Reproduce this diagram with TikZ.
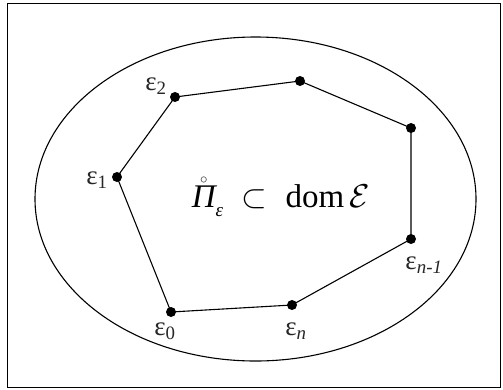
\documentclass[tikz,border=0pt]{standalone}
\usepackage{fix-cm}
\usepackage{fontspec}
\setmainfont{Liberation Serif}
\usetikzlibrary{shapes.geometric}
\begin{document}
\begin{tikzpicture}[x=1pt,y=-1pt,
  vtx/.style={circle,fill=black,inner sep=0pt,minimum size=10pt},
  lbl/.style={font=\fontsize{27}{30}\selectfont,inner sep=0pt,text=black!85},
  edge/.style={line width=1.1pt},
  bound/.style={draw,ellipse,line width=1.1pt,inner sep=0pt}]
\useasboundingbox (0,0) rectangle (503,389);
\draw[line width=0.9pt] (7,3) rectangle (500,387);
\node[bound,minimum width=441pt,minimum height=324pt] (dom) at (255.5,199) {};
\node[vtx] (v0) at (171,312) {};
\node[vtx] (v1) at (117,177) {};
\node[vtx] (v2) at (175,97) {};
\node[vtx] (v3) at (300,81) {};
\node[vtx] (v4) at (411,128) {};
\node[vtx] (v5) at (411,239) {};
\node[vtx] (v6) at (292,305) {};
\draw[edge] (v0.center) -- (v1.center) -- (v2.center) -- (v3.center) -- (v4.center) -- (v5.center) -- (v6.center) -- cycle;
\node[lbl] (l2) at (156,86) {ε\textsubscript{2}};
\node[lbl] (l1) at (97,180) {ε\textsubscript{1}};
\node[lbl] (l0) at (165,331) {ε\textsubscript{0}};
\node[lbl] (ln) at (296,331) {ε\textsubscript{\textit{n}}};
\node[lbl] (lm) at (424,265) {ε\textsubscript{\textit{n-1}}};
\node[font=\fontsize{33}{40}\selectfont,inner sep=0pt] (main) at (281,197)
  {$\mathring{\hbox{\itshape Π}}\raisebox{-9pt}{\fontsize{19}{19}\selectfont\itshape ε}\;\subset\;\hbox{dom}\,\mathcal{E}$};
\end{tikzpicture}
\end{document}
